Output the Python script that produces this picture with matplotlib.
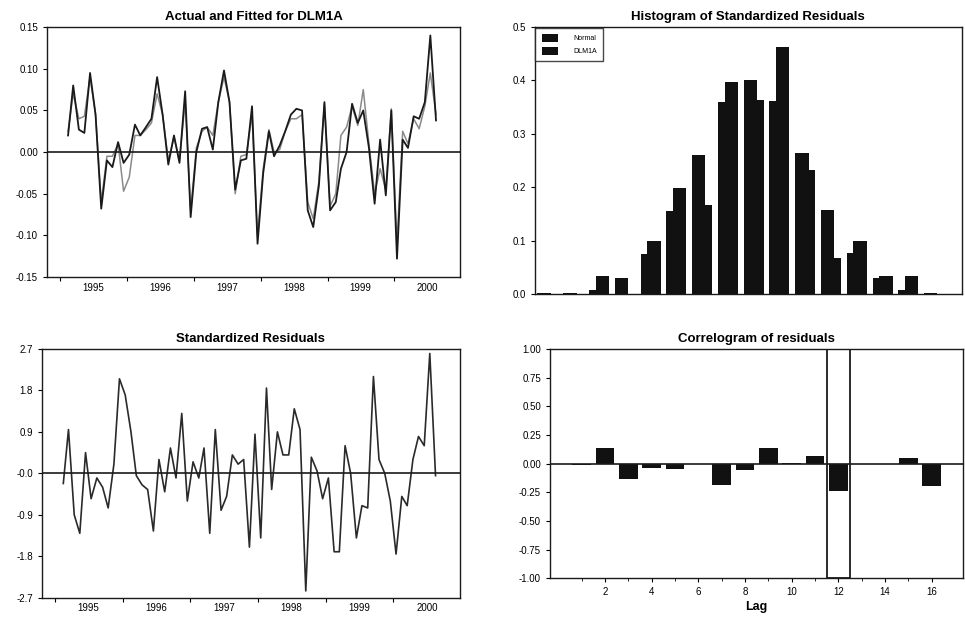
import numpy as np
import pandas as pd
import matplotlib
matplotlib.use('Agg')
import matplotlib.pyplot as plt
import matplotlib.dates as mdates

plt.rcParams['font.family'] = ['Liberation Sans', 'DejaVu Sans']

# dados
meses = pd.date_range('1995-02-01', periods=67, freq='MS') + pd.Timedelta(days=14)

actual = [0.020, 0.080, 0.027, 0.023, 0.095, 0.045, -0.068, -0.010, -0.018, 0.012,
          -0.013, -0.003, 0.033, 0.020, 0.030, 0.040, 0.090, 0.045, -0.015, 0.020,
          -0.013, 0.073, -0.078, 0.000, 0.028, 0.030, 0.003, 0.060, 0.098, 0.060,
          -0.045, -0.010, -0.008, 0.055, -0.110, -0.025, 0.025, -0.005, 0.008, 0.025,
          0.045, 0.052, 0.050, -0.070, -0.090, -0.040, 0.060, -0.070, -0.060, -0.020,
          0.000, 0.058, 0.035, 0.050, 0.005, -0.062, 0.015, -0.052, 0.050, -0.128,
          0.015, 0.005, 0.043, 0.040, 0.060, 0.140, 0.038]
fitted = [0.025, 0.070, 0.040, 0.043, 0.090, 0.045, -0.060, -0.005, -0.005, 0.010,
          -0.047, -0.030, 0.020, 0.020, 0.027, 0.035, 0.070, 0.045, -0.010, 0.018,
          -0.010, 0.060, -0.070, 0.005, 0.025, 0.030, 0.020, 0.060, 0.090, 0.060,
          -0.050, -0.005, -0.003, 0.045, -0.100, -0.020, 0.027, 0.000, 0.003, 0.025,
          0.040, 0.040, 0.045, -0.060, -0.080, -0.035, 0.058, -0.065, -0.050, 0.020,
          0.030, 0.055, 0.032, 0.075, 0.010, -0.050, -0.020, -0.045, 0.052, -0.110,
          0.025, 0.010, 0.040, 0.028, 0.055, 0.095, 0.045]
std_resid = [-0.22, 0.95, -0.90, -1.30, 0.45, -0.55, -0.10, -0.30, -0.75, 0.20,
             2.05, 1.70, 0.90, -0.05, -0.25, -0.35, -1.25, 0.30, -0.40, 0.55,
             -0.10, 1.30, -0.60, 0.25, -0.10, 0.55, -1.30, 0.95, -0.80, -0.50,
             0.40, 0.20, 0.30, -1.60, 0.85, -1.40, 1.85, -0.35, 0.90, 0.40,
             0.40, 1.40, 0.95, -2.55, 0.35, 0.05, -0.55, -0.10, -1.70, -1.70,
             0.60, 0.00, -1.40, -0.70, -0.75, 2.10, 0.30, 0.00, -0.60, -1.75,
             -0.50, -0.70, 0.30, 0.80, 0.60, 2.60, -0.05]

# histograma: centros das classes, densidade normal e residuos
hist_centros = [-3.60, -3.15, -2.70, -2.25, -1.80, -1.35, -0.90, -0.45, 0.00,
                0.45, 0.90, 1.35, 1.80, 2.25, 2.70, 3.15]
hist_normal = [0.001, 0.002, 0.008, 0.030, 0.075, 0.155, 0.260, 0.360, 0.400,
               0.362, 0.265, 0.158, 0.077, 0.030, 0.008, 0.002]
hist_dlm = [0.000, 0.000, 0.033, 0.000, 0.100, 0.198, 0.167, 0.397, 0.363,
            0.462, 0.233, 0.068, 0.100, 0.033, 0.033, 0.000]

# correlograma
lags = list(range(1, 17))
acf = [-0.010, 0.137, -0.134, -0.038, -0.047, 0.000, -0.186, -0.055, 0.137,
       0.005, 0.070, -0.242, 0.000, 0.000, 0.047, -0.195]
lag_destaque = 12

cor = '#1a1a1a'
fig = plt.figure(figsize=(9.65, 6.17), dpi=100)

ax1 = fig.add_axes([0.0487, 0.551, 0.428, 0.405])
ax2 = fig.add_axes([0.554, 0.5235, 0.4425, 0.4327])
ax3 = fig.add_axes([0.0435, 0.031, 0.433, 0.4036])
ax4 = fig.add_axes([0.570, 0.063, 0.428, 0.371])

def eixo_tempo(ax):
    ax.set_xlim(pd.Timestamp('1994-10-23'), pd.Timestamp('2000-12-24'))
    ax.xaxis.set_major_locator(mdates.YearLocator())
    ax.xaxis.set_major_formatter(plt.NullFormatter())
    ax.xaxis.set_minor_locator(mdates.MonthLocator(bymonth=7))
    ax.xaxis.set_minor_formatter(mdates.DateFormatter('%Y'))
    ax.tick_params(axis='x', which='major', length=3, direction='out')
    ax.tick_params(axis='x', which='minor', length=0, labelsize=7, pad=4)
    ax.tick_params(axis='y', labelsize=7, length=3)

# 1. Actual and fitted
ax1.plot(meses, fitted, color='#8a8a8a', linewidth=1.1)
ax1.plot(meses, actual, color=cor, linewidth=1.3)
ax1.axhline(0, color=cor, linewidth=1.2)
ax1.set_ylim(-0.15, 0.15)
ax1.set_yticks([-0.15, -0.10, -0.05, 0.0, 0.05, 0.10, 0.15])
ax1.set_yticklabels(['-0.15', '-0.10', '-0.05', '0.00', '0.05', '0.10', '0.15'])
eixo_tempo(ax1)
ax1.set_title('Actual and Fitted for DLM1A', fontsize=9.5, fontweight='bold', pad=5)

# 2. Histograma
w = 0.233
desl = 0.0583
ax2.bar([c - desl for c in hist_centros], hist_normal, width=w, color='#111111', label='Normal')
ax2.bar([c + desl for c in hist_centros], hist_dlm, width=w, color='#111111', label='DLM1A')
ax2.set_xlim(-3.825, 3.63)
ax2.set_ylim(0, 0.5)
ax2.set_yticks([0.0, 0.1, 0.2, 0.3, 0.4, 0.5])
ax2.set_yticklabels(['0.0', '0.1', '0.2', '0.3', '0.4', '0.5'])
ax2.set_xticks([])
ax2.tick_params(axis='y', labelsize=7, length=3)
ax2.legend(loc='upper left', fontsize=5, frameon=True, fancybox=False,
           edgecolor=cor, borderaxespad=0.1, handlelength=2.3, handleheight=1.5,
           handletextpad=2.3, labelspacing=0.6, borderpad=0.9)
ax2.set_title('Histogram of Standardized Residuals', fontsize=9.5, fontweight='bold', pad=5)

# 3. Standardized residuals
ax3.plot(meses, std_resid, color='#2a2a2a', linewidth=1.2)
ax3.axhline(0, color=cor, linewidth=1.2)
ax3.set_ylim(-2.7, 2.7)
ax3.set_yticks([-2.7, -1.8, -0.9, 0.0, 0.9, 1.8, 2.7])
ax3.set_yticklabels(['-2.7', '-1.8', '-0.9', '-0.0', '0.9', '1.8', '2.7'])
eixo_tempo(ax3)
ax3.set_title('Standardized Residuals', fontsize=9.5, fontweight='bold', pad=5)

# 4. Correlograma
ax4.bar(lags, acf, width=0.8, color='#111111')
ax4.axhline(0, color=cor, linewidth=1.2)
ax4.axvspan(lag_destaque - 0.5, lag_destaque + 0.5, fill=False, edgecolor=cor, linewidth=1.3)
ax4.set_xlim(-0.36, 17.35)
ax4.set_ylim(-1, 1)
ax4.set_yticks([-1, -0.75, -0.5, -0.25, 0, 0.25, 0.5, 0.75, 1])
ax4.set_yticklabels(['-1.00', '-0.75', '-0.50', '-0.25', '0.00', '0.25', '0.50', '0.75', '1.00'])
ax4.set_xticks(range(2, 17, 2))
ax4.set_xticks(range(1, 17, 2), minor=True)
ax4.tick_params(axis='both', labelsize=7, length=3)
ax4.tick_params(axis='x', which='minor', length=2)
ax4.set_xlabel('Lag', fontsize=9, fontweight='bold', labelpad=3)
ax4.set_title('Correlogram of residuals', fontsize=9.5, fontweight='bold', pad=5)

for ax in (ax1, ax2, ax3, ax4):
    for s in ax.spines.values():
        s.set_linewidth(1.0)
        s.set_color(cor)

fig.savefig('out.png', dpi=100)
